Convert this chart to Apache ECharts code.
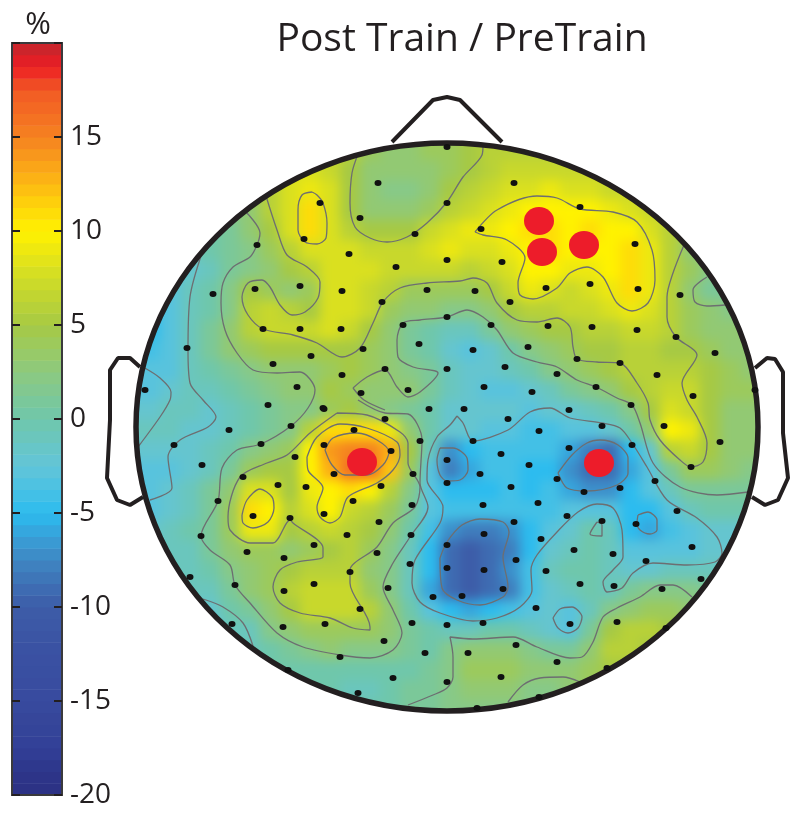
<!DOCTYPE html>
<html>
<head>
    <meta charset="UTF-8">
    <title>Post Train / PreTrain</title>
    <script src="https://cdn.jsdelivr.net/npm/echarts@6/dist/echarts.min.js"></script>
    <style>
        html,body{margin:0;background:#fff}
        #map,#topo{position:absolute;left:0;top:0;width:800px;height:818px}
        #map{filter:blur(6px)}
    </style>
</head>
<body>
<div id="map"></div>
<div id="topo"></div>
<script type="text/javascript">
// colour scale every 1.25 %, -20 to 20
var scaleStops = ['#2b3183','#2d3589','#324098','#354599','#384a9e','#394ea0','#3a51a2','#3b56a5','#3d5ca8','#3e70b5','#3f86c2','#38a0d8','#2cbcef','#49c1e4','#62c5d8','#69c6c2','#6fc7ab','#7ec895','#8dc97f','#9aca62','#a6c944','#bcd335','#d0dc26','#e9e614','#fff200','#fed60a','#fdb913','#f99e1a','#f58220','#f36d22','#f15a24','#ed1c24','#c1272d'];
var scaleTicks = [-20, -15, -10, -5, 0, 5, 10, 15];

// percent change, cell centres
var cellX = [150,170,190,210,230,250,270,290,310,330,350,370,390,410,430,450,470,490,510,530,550,570,590,610,630,650,670,690,710,730,750];
var cellY = [150,170,190,210,230,250,270,290,310,330,350,370,390,410,430,450,470,490,510,530,550,570,590,610,630,650,670,690,710];
var cells = [
[3,3,3,3,3,3,6,7,7,7,6,4,3,3,4,4,5,6,6,6,6,6,6,6,6,6,6,6,6,6,6],
[3,3,3,3,3,5,7,8,8,7,5,3,3,3,3,4,5,6,7,7,7,7,7,7,6,6,6,6,6,6,6],
[1,1,1,1,2,4,6,8,9,8,5,3,2,2,3,5,6,7,8,8,9,8,8,7,7,6,6,5,5,5,5],
[-1,-1,0,1,2,3,6,8,11,8,5,3,3,3,4,6,7,8,9,10,10,10,10,9,8,7,6,4,4,4,4],
[-3,-2,-1,0,1,3,5,8,11,8,6,5,5,5,7,8,9,9,10,11,11,10,11,10,10,8,6,4,3,3,3],
[-3,-2,-1,0,1,2,4,6,8,8,8,7,7,7,8,9,8,8,9,10,11,10,10,10,11,9,6,3,2,2,3],
[-4,-3,-2,-1,1,2,3,5,6,8,8,8,7,7,7,7,6,7,8,10,10,9,9,10,11,9,6,4,2,2,3],
[-5,-3,-1,0,2,5,4,3,4,8,8,7,6,4,4,4,4,5,7,9,8,7,8,9,11,9,6,3,1,1,2],
[-5,-3,-1,0,2,6,7,6,5,8,8,7,4,3,3,2,2,3,5,6,6,7,7,8,9,8,6,4,3,2,2],
[-5,-3,-1,1,3,6,7,7,7,8,7,5,3,1,0,-1,-1,1,3,4,5,5,6,6,7,7,6,4,3,3,3],
[-4,-3,-1,1,3,4,5,5,5,5,5,4,3,1,0,-2,-3,-2,0,2,3,4,5,5,6,6,5,5,4,3,3],
[-3,-3,-1,0,1,2,3,3,3,4,5,4,3,2,1,-1,-2,-2,-1,0,2,3,4,5,6,6,6,6,5,4,3],
[-3,-2,-1,-1,0,1,2,3,3,5,4,3,3,3,1,-1,-2,-3,-3,-2,-1,1,2,3,5,6,7,7,5,4,4],
[-2,-1,-1,-2,-1,0,1,2,2,4,5,3,2,1,0,-2,-2,-2,-2,-3,-2,-2,-1,0,2,5,8,7,5,3,3],
[-1,-1,-2,-2,-1,0,1,2,6,11,11,11,9,3,0,-2,-2,-3,-3,-4,-4,-3,-3,-2,0,3,10,9,5,3,3],
[-2,-2,-2,-1,0,2,3,4,10,14,15,15,13,5,-1,-7,-5,-4,-4,-4,-4,-6,-8,-9,-5,-2,6,7,5,3,3],
[-3,-3,-2,-1,1,4,5,5,10,13,16,16,12,4,-3,-8,-6,-4,-4,-5,-5,-7,-9,-9,-6,-3,1,4,4,3,2],
[-3,-2,-1,1,3,8,8,5,9,10,11,10,6,2,-3,-5,-5,-5,-4,-5,-4,-6,-7,-7,-5,-3,-1,1,1,1,1],
[-3,-2,-1,1,4,11,10,6,8,10,7,6,4,1,-3,-4,-4,-4,-4,-4,-4,-3,-3,-3,-5,-5,-3,-1,0,0,0],
[-2,-1,0,1,4,9,9,5,6,7,6,5,3,0,-4,-7,-8,-8,-7,-5,-3,-2,0,-1,-5,-6,-4,-3,-2,-2,-2],
[-2,-1,-1,1,3,4,4,3,4,5,6,4,2,-1,-5,-9,-10,-9,-8,-5,-2,-1,0,-1,-3,-3,-3,-3,-2,-2,-2],
[-1,-1,-1,0,2,3,4,5,6,6,6,3,2,-1,-5,-9,-10,-9,-7,-4,-1,0,0,-1,-2,-2,-1,-1,-1,-1,-1],
[-1,-1,-1,-1,1,3,4,6,7,7,7,4,2,-1,-6,-9,-10,-9,-8,-4,-2,-1,0,-1,1,2,2,2,1,1,1],
[-2,-2,-2,-2,0,1,3,5,7,7,7,6,3,0,-3,-5,-6,-5,-4,-3,-2,-3,-1,2,3,4,4,3,3,3,3],
[-3,-3,-3,-3,-1,-1,2,3,4,4,4,4,3,1,0,-1,-1,0,0,-1,-2,-3,1,5,6,6,5,5,5,5,5],
[-1,-1,-1,-1,-1,-1,0,1,2,3,2,2,2,1,0,2,3,3,3,2,1,1,3,6,6,5,5,5,5,5,5],
[0,0,0,0,0,0,0,0,0,0,0,0,0,0,1,2,4,4,4,3,3,3,4,5,5,5,5,5,5,5,5],
[0,0,0,0,0,0,0,0,0,0,-1,-1,0,1,1,2,3,3,3,2,2,3,4,4,4,4,4,4,4,4,4],
[0,0,0,0,0,0,0,0,0,0,0,0,0,1,1,2,2,2,2,2,2,2,3,3,3,3,3,3,3,3,3]
];

// sensor positions on the head map
var sensors = [
[447,147],[378,183],[320,203],[447,203],[360,218],[415,234],[304,239],[257,245],[349,254],[447,260],[396,267],[300,286],[255,289],[342,291],[427,290],[213,294],[382,302],[263,329],[300,329],[341,329],[403,325],[447,317],[419,344],[363,349],[187,348],[311,356],[273,364],[385,369],[447,369],[342,375],[145,390],[297,387],[408,390],[361,393],[268,405],[323,408],[429,409],
[514,183],[580,207],[481,229],[635,244],[502,262],[546,288],[590,284],[638,289],[475,291],[510,302],[680,295],[491,325],[548,326],[592,327],[637,330],[676,337],[528,347],[473,350],[715,353],[577,359],[620,363],[505,367],[557,374],[657,375],[484,387],[596,387],[532,392],[693,396],[755,390],[631,405],[464,409],[569,410],
[508,419],[602,426],[664,426],[720,442],[539,431],[473,441],[569,448],[632,445],[501,454],[447,460],[529,465],[480,474],[557,479],[447,483],[511,487],[655,481],[691,467],[584,492],[620,488],[483,505],[538,503],[567,516],[677,511],[514,522],[602,521],[636,524],[484,534],[541,539],[447,545],[692,547],[574,550],[613,554],[516,560],[646,561],[447,568],[484,570],[546,571],[701,579],[580,584],[614,586],[503,589],[662,589],[462,596],[536,608],[570,624],[617,622],[483,623],[447,625],[666,628],[516,645],[468,653],[557,662],[607,668],[501,677],[447,682],[539,697],[477,708],
[324,409],[385,419],[291,426],[229,430],[354,430],[174,445],[261,444],[324,445],[420,441],[391,451],[295,457],[202,465],[334,474],[413,474],[243,477],[278,485],[306,487],[381,486],[353,501],[218,501],[412,505],[324,514],[253,516],[290,518],[379,522],[347,535],[411,535],[201,536],[314,545],[247,552],[377,553],[284,558],[410,564],[350,572],[190,577],[235,585],[314,584],[388,588],[284,591],[433,597],[360,609],[412,623],[232,624],[325,624],[283,627],[384,641],[340,657],[425,653],[393,678],[358,693],[288,670]
];
var hotSensors = [[539,221],[542,252],[584,245],[362,462],[599,463]];

var contours = [
[[312,192],[302,195],[298,210],[298,230],[305,242],[317,244],[326,238],[327,223],[323,203],[317,195],[312,192]],
[[358,154],[352,173],[350,203],[355,227],[370,238],[387,242],[407,237],[427,223],[447,202],[463,177],[482,155],[483,145]],
[[266,196],[277,230],[287,255],[307,267],[320,282],[318,298],[305,312],[292,315],[280,305],[270,287],[262,280],[248,283],[242,297],[248,315],[263,329],[293,335],[317,343],[342,357],[360,348],[373,323],[383,302],[400,288],[427,283],[460,281],[473,278],[487,283],[497,303],[517,320],[537,322],[557,318],[570,327],[573,347],[577,359],[597,362],[620,363],[637,383],[648,403],[650,420],[660,440],[680,460],[691,467],[703,462],[707,443],[697,417],[687,400],[682,383],[697,355],[676,337],[667,317],[667,297],[673,273],[684,245]],
[[246,212],[260,233],[257,245],[250,257],[233,267],[223,283],[221,303],[225,330],[237,353],[253,370],[277,373],[300,372],[315,390],[308,408],[291,426],[261,444],[237,450],[222,468],[218,501],[201,536],[210,550],[230,565],[235,585],[250,603],[277,633],[303,647],[340,655],[370,658],[393,650],[402,633],[393,610],[383,587],[393,563],[410,537],[428,507],[420,483],[422,440],[408,414],[385,413],[358,400]],
[[353,388],[367,377],[385,370],[397,387],[408,397],[420,392],[438,373],[413,367],[398,357],[397,340],[403,323],[420,320],[447,317],[467,310],[483,317],[497,330],[513,353],[537,362],[557,367],[577,380],[596,387],[617,398],[632,405],[640,423],[653,463],[680,487],[717,495],[748,492]],
[[353,388],[364,400],[385,410]],
[[457,416],[463,423],[473,441],[508,430],[530,412],[550,408],[570,418],[602,423],[620,428],[632,443],[647,467],[667,500],[697,518],[717,537],[722,553],[715,562],[687,565],[653,563],[633,573],[622,588],[607,592],[603,582],[613,570],[623,557],[622,530],[613,508],[597,504],[578,512],[557,532],[537,555],[531,570],[532,590],[520,607],[497,618],[473,621],[440,613],[420,602],[412,583],[415,560],[440,523],[443,507],[427,480],[428,460],[437,437],[450,425],[457,416]],
[[440,448],[453,448],[467,458],[468,470],[460,480],[447,481],[440,475],[437,460],[440,448]],
[[558,473],[572,455],[587,443],[600,440],[618,445],[628,458],[628,473],[617,485],[587,491],[567,488],[558,473]],
[[638,515],[648,512],[657,520],[657,530],[650,534],[640,530],[637,523],[638,515]],
[[597,522],[590,534],[602,536],[602,525],[597,522]],
[[440,558],[447,542],[462,525],[480,519],[503,522],[509,532],[503,557],[508,587],[503,597],[480,605],[457,600],[442,588],[440,558]],
[[553,618],[560,609],[572,607],[582,617],[578,628],[568,633],[558,628],[553,618]],
[[408,705],[433,695],[447,688],[453,677],[453,657],[450,637],[473,639],[513,637],[537,647],[570,658],[582,657],[593,642],[603,617],[617,608],[640,597],[660,585],[673,585],[692,597]],
[[508,702],[523,685],[540,678],[563,677],[580,682]],
[[707,277],[693,290],[695,302],[707,306],[725,305]],
[[202,253],[190,297],[188,350],[190,383],[203,400],[216,417],[208,427],[180,440],[168,457],[172,488],[150,500]],
[[143,367],[160,378],[171,392],[170,400],[160,417],[138,447]],
[[203,599],[223,607],[243,623],[253,646]],
[[337,413],[367,415],[400,432],[408,443],[408,463],[420,487],[415,507],[393,523],[377,547],[350,570],[350,583],[370,627],[370,630],[353,628],[330,618],[300,613],[280,603],[273,587],[280,570],[297,562],[323,557],[323,548],[293,523],[290,520],[273,543],[250,543],[230,530],[228,517],[240,477],[267,463],[287,455],[310,433],[337,413]],
[[307,457],[317,437],[340,424],[367,428],[397,442],[400,455],[393,470],[377,483],[348,497],[340,517],[330,523],[320,517],[317,507],[323,488],[308,470],[307,457]],
[[325,450],[333,438],[357,433],[377,440],[389,452],[383,465],[367,475],[345,475],[332,465],[325,450]],
[[242,515],[247,500],[260,489],[272,497],[274,508],[268,522],[253,528],[243,523],[242,515]],
[[475,232],[497,210],[537,196],[557,198],[580,209],[613,212],[637,222],[652,250],[655,280],[648,303],[632,311],[617,303],[603,277],[587,267],[570,273],[557,288],[533,299],[520,295],[518,283],[525,258],[507,240],[483,235],[475,232]]
];

// head outline
var headEllipse = [[447, 427, 311, 284]];
var nose = [[392,142],[433,100],[447,97],[460,100],[502,142]];
var leftEar = [[140,367],[130,358],[118,358],[110,370],[110,420],[107,478],[117,500],[130,505],[143,497]];
var rightEar = [[755,368],[767,358],[775,359],[783,372],[783,433],[788,478],[778,500],[765,505],[752,497]];

var heatData = [];
for (var r = 0; r < cellY.length; r++) {
    for (var c = 0; c < cellX.length; c++) {
        heatData.push([cellX[c], cellY[r], cells[r][c]]);
    }
}
// one flat block per colormap step
var barLevels = [];
for (var l = -19.6875; l < 20; l += 0.625) barLevels.push([0.5, l, l]);

function renderCell(params, api) {
    var x = api.value(0), y = api.value(1);
    var h = headEllipse[0];
    var d = Math.pow((x - h[0]) / h[2], 2) + Math.pow((y - h[1]) / h[3], 2);
    if (d > 1.2) return null;
    var p = api.coord([x, y]);
    var s = api.size([20, 20]);
    var left = p[0] - s[0] / 2, top = p[1] - s[1] / 2, w = s[0] + 0.5, hh = s[1] + 0.5;
    // outer cells run on under the white ring so the blur keeps its colour at the rim
    if (d <= 1) {
        if (x === cellX[0]) { left -= 20; w += 20; }
        if (x === cellX[cellX.length - 1]) w += 20;
        if (y === cellY[0]) { top -= 20; hh += 20; }
    }
    return {
        type: 'rect',
        shape: { x: left, y: top, width: w, height: hh },
        style: { fill: api.visual('color') }
    };
}

function renderBarStep(params, api) {
    var p = api.coord([0.5, api.value(1)]);
    var s = api.size([1, 0.625]);
    return {
        type: 'rect',
        shape: { x: p[0] - s[0] / 2, y: p[1] - s[1] / 2, width: s[0], height: s[1] + 0.5 },
        style: { fill: api.visual('color') }
    };
}

function renderHead(ring) {
    return function (params, api) {
        var c = api.coord([api.value(0), api.value(1)]);
        var s = api.size([api.value(2), api.value(3)]);
        var extra = ring ? 30 : 0;
        return {
            type: 'ellipse',
            shape: { cx: c[0], cy: c[1], rx: s[0] + extra, ry: s[1] + extra },
            style: { fill: 'none', stroke: ring ? '#fff' : '#231f20', lineWidth: ring ? 60 : 5.5 }
        };
    };
}

function outline(points) {
    return {
        type: 'line', data: points, showSymbol: false, silent: true,
        z: 5, lineStyle: { color: '#231f20', width: 4 }
    };
}

var headGrid = { left: 100, top: 90, width: 690, height: 630, outerBoundsMode: 'none' };
var headX = { type: 'value', min: 100, max: 790, show: false };
var headY = { type: 'value', min: 90, max: 720, inverse: true, show: false };
var colourMap = {
    show: false, type: 'continuous', min: -20, max: 20, dimension: 2, seriesIndex: 0,
    inRange: { color: scaleStops }
};

// the smoothed colour field sits in its own chart under the lines
var mapChart = echarts.init(document.getElementById('map'));
mapChart.setOption({
    animation: false,
    grid: headGrid,
    xAxis: headX,
    yAxis: headY,
    visualMap: colourMap,
    series: [{ type: 'custom', renderItem: renderCell, data: heatData, encode: { x: 0, y: 1 }, silent: true, clip: false }]
});

var series = [
    { type: 'custom', xAxisIndex: 1, yAxisIndex: 1, renderItem: renderBarStep, data: barLevels, encode: { x: 0, y: 1 }, silent: true, z: 1 }
];
contours.forEach(function (line) {
    series.push({
        type: 'line', data: line, showSymbol: false, smooth: 0.3, silent: true,
        z: 2, lineStyle: { color: '#6d6e71', width: 1.3 }
    });
});
series.push(
    { type: 'custom', renderItem: renderHead(true), data: headEllipse, encode: { x: 0, y: 1 }, silent: true, z: 3, clip: false },
    { type: 'custom', renderItem: renderHead(false), data: headEllipse, encode: { x: 0, y: 1 }, silent: true, z: 4, clip: false },
    outline(nose), outline(leftEar), outline(rightEar),
    { type: 'scatter', data: sensors, symbolSize: [7, 6], silent: true, z: 6, itemStyle: { color: '#111', opacity: 1 } },
    { type: 'scatter', data: hotSensors, symbolSize: [30, 28], silent: true, z: 7, itemStyle: { color: '#ed1c2a', opacity: 1 } }
);

var chart = echarts.init(document.getElementById('topo'));
chart.setOption({
    animation: false,
    backgroundColor: 'transparent',
    textStyle: { fontFamily: 'Open Sans' },
    title: [
        {
            text: 'Post Train / PreTrain', left: 457, top: 15, textAlign: 'center',
            textStyle: { fontFamily: 'Open Sans', fontSize: 39, fontWeight: 'normal', color: '#231f20' }
        },
        {
            text: '%', left: 33, top: 5, textAlign: 'center',
            textStyle: { fontFamily: 'Open Sans', fontSize: 31, fontWeight: 'normal', color: '#231f20' }
        }
    ],
    grid: [
        headGrid,
        { left: 12, top: 43, width: 50, height: 752, show: true, borderColor: '#3a3a3c', borderWidth: 2, z: 10, outerBoundsMode: 'none' }
    ],
    xAxis: [
        headX,
        { type: 'value', gridIndex: 1, min: 0, max: 1, show: false }
    ],
    yAxis: [
        headY,
        {
            type: 'value', gridIndex: 1, min: -20, max: 20, interval: 5, position: 'right', z: 20,
            axisLine: { show: false, onZero: false }, splitLine: { show: false },
            axisTick: { show: true, inside: true, length: 8, lineStyle: { color: '#231f20', width: 2 } },
            axisLabel: {
                margin: 8, fontSize: 28, color: '#231f20', fontFamily: 'Open Sans',
                formatter: function (v) { return scaleTicks.indexOf(v) >= 0 ? String(v) : ''; }
            }
        },
        {
            type: 'value', gridIndex: 1, min: -20, max: 20, interval: 5, position: 'left', z: 20,
            axisLine: { show: false, onZero: false }, splitLine: { show: false }, axisLabel: { show: false },
            axisTick: { show: true, inside: true, length: 8, lineStyle: { color: '#231f20', width: 2 } }
        }
    ],
    visualMap: {
        show: false, type: 'continuous', min: -20, max: 20, dimension: 2, seriesIndex: 0,
        inRange: { color: scaleStops }
    },
    series: series
});
</script>
</body>
</html>
